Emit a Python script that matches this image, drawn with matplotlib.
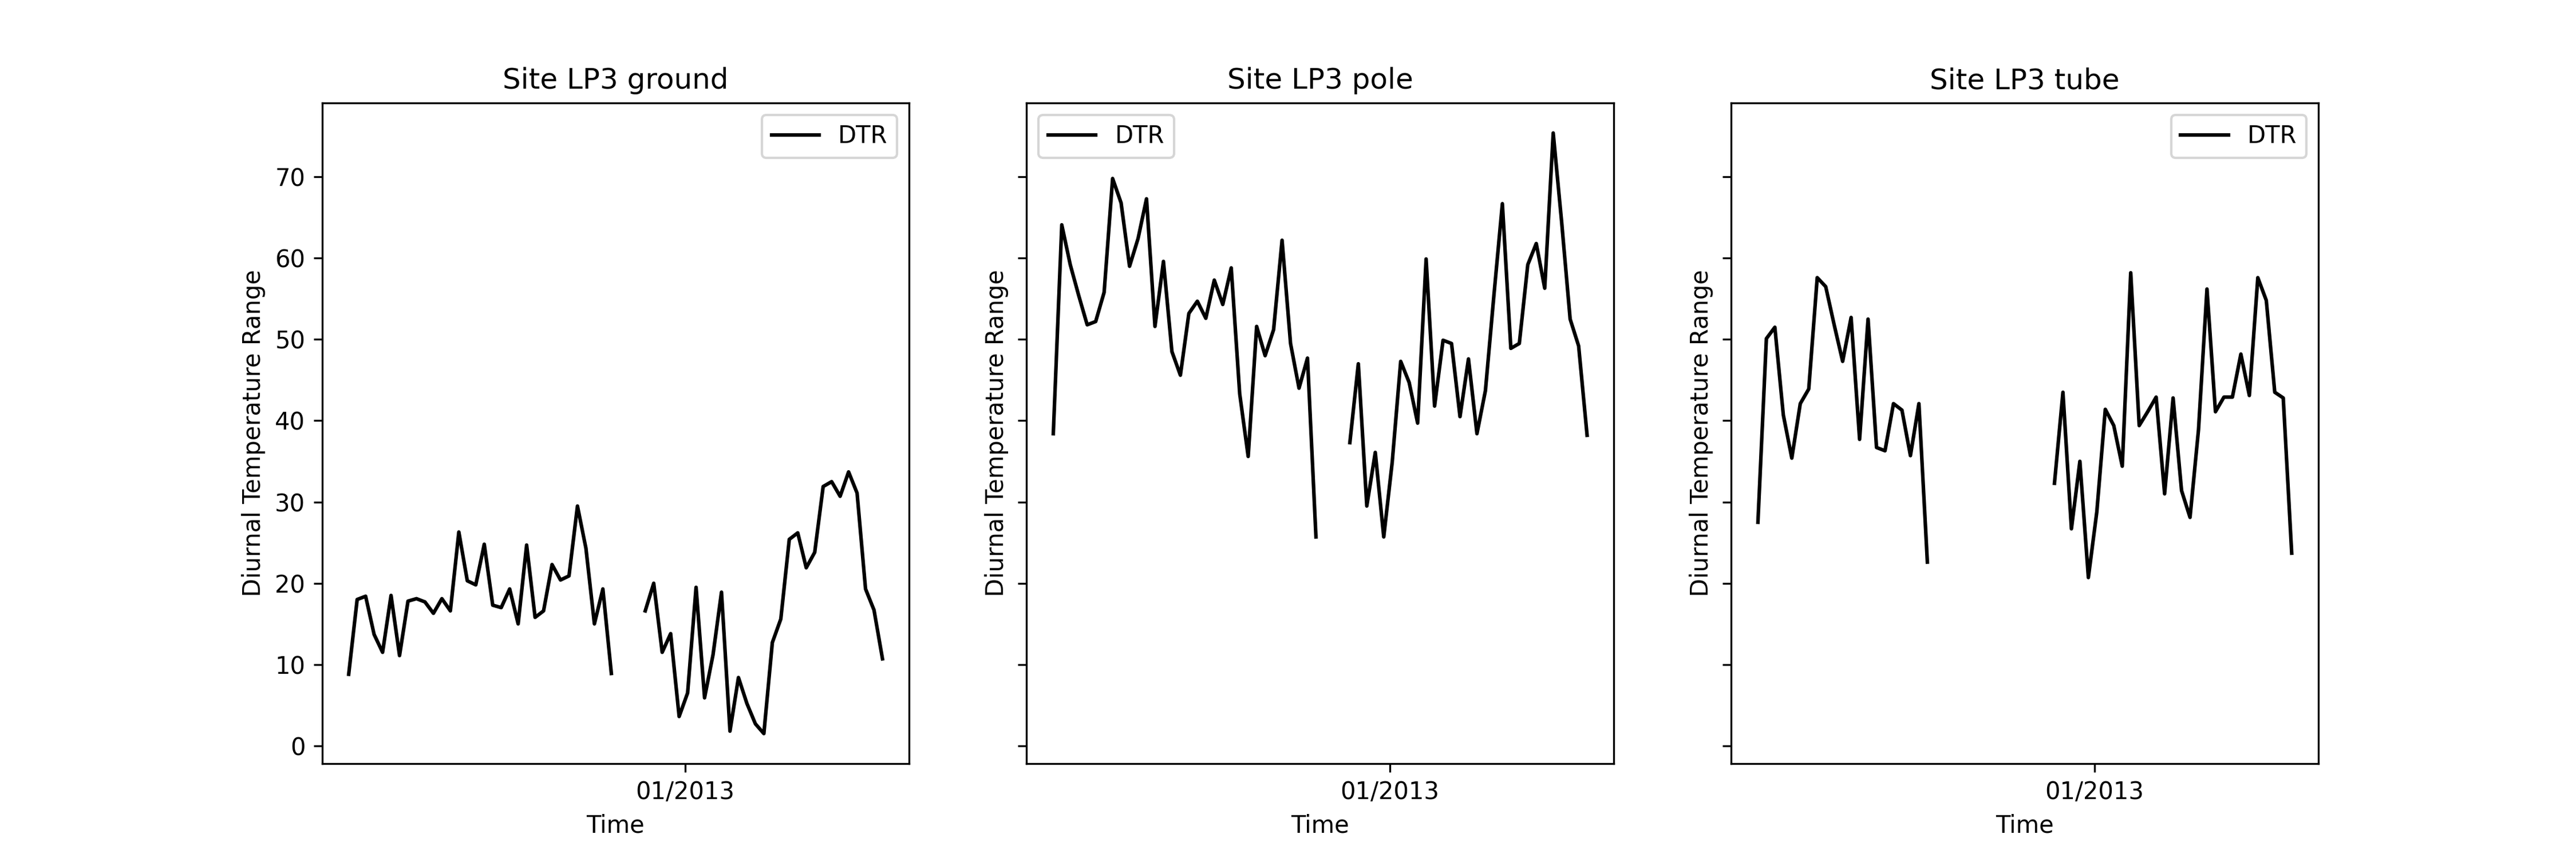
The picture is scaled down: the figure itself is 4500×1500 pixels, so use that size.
import matplotlib

matplotlib.use("Agg")
import matplotlib.pyplot as plt
import matplotlib.dates as mdates
import numpy as np
import pandas as pd

nan = np.nan

# weekly sampling; gaps are NaN
dates = pd.date_range("2012-03-29", periods=64, freq="7D")

ground = [8.8, 18.0, 18.4, 13.7, 11.5, 18.5, 11.1, 17.8, 18.1, 17.7, 16.3, 18.1,
          16.6, 26.3, 20.3, 19.8, 24.8, 17.3, 17.0, 19.3, 15.0, 24.7, 15.8, 16.6,
          22.3, 20.4, 20.9, 29.5, 24.3, 15.0, 19.3, 8.9,
          nan, nan, nan,
          16.6, 20.0, 11.5, 13.8, 3.6, 6.5, 19.5, 5.9, 11.2, 18.9, 1.8, 8.4, 5.2,
          2.7, 1.5, 12.7, 15.6, 25.4, 26.2, 21.9, 23.8, 31.9, 32.5, 30.7, 33.7,
          31.1, 19.3, 16.7, 10.7]

pole = [38.4, 64.1, 59.2, 55.4, 51.8, 52.2, 55.8, 69.8, 66.8, 59.0, 62.4, 67.3,
        51.6, 59.6, 48.5, 45.6, 53.2, 54.7, 52.6, 57.3, 54.3, 58.8, 43.3, 35.6,
        51.6, 48.0, 51.2, 62.2, 49.5, 44.0, 47.7, 25.7,
        nan, nan, nan,
        37.3, 47.0, 29.5, 36.1, 25.7, 34.9, 47.3, 44.7, 39.7, 59.9, 41.8, 49.9,
        49.5, 40.5, 47.6, 38.4, 43.7, 55.4, 66.7, 48.9, 49.5, 59.2, 61.8, 56.3,
        75.4, 64.4, 52.5, 49.2, 38.2]

tube = [27.5, 50.1, 51.5, 40.7, 35.4, 42.1, 43.9, 57.6, 56.5, 51.8, 47.3, 52.7,
        37.7, 52.5, 36.7, 36.3, 42.1, 41.3, 35.7, 42.1, 22.6,
        nan, nan, nan, nan, nan, nan, nan, nan, nan, nan, nan, nan, nan, nan,
        32.3, 43.5, 26.7, 35.0, 20.7, 28.8, 41.4, 39.4, 34.4, 58.2, 39.4, 41.1,
        42.9, 31.0, 42.8, 31.4, 28.1, 38.9, 56.2, 41.1, 42.9, 42.9, 48.2, 43.1,
        57.6, 54.8, 43.5, 42.8, 23.7]

sites = ["ground", "pole", "tube"]
series = [ground, pole, tube]
legend_locs = ["upper right", "upper left", "upper right"]

fig, axes = plt.subplots(1, 3, figsize=(15, 5), sharey=True)
for ax, site, values, loc in zip(axes, sites, series, legend_locs):
    ax.plot(dates, values, color="black", label="DTR")
    ax.set_title(f"Site LP3 {site}")
    ax.set_xlabel("Time")
    ax.set_ylabel("Diurnal Temperature Range")
    ax.xaxis.set_major_locator(mdates.YearLocator())
    ax.xaxis.set_major_formatter(mdates.DateFormatter("%m/%Y"))
    ax.legend(loc=loc)

fig.savefig("out.png", dpi=300)
